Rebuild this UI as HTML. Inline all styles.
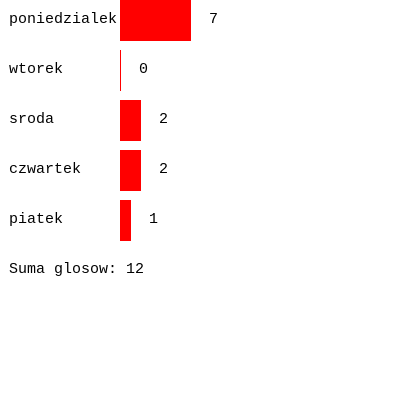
<!DOCTYPE html>
<html><head><meta charset="utf-8"><style>
body{margin:0;background:#fff;width:400px;height:400px;overflow:hidden}
svg text{font-family:"Liberation Mono",monospace;font-size:15px;fill:#000}
</style></head><body>
<svg width="400" height="400">
<g id="g"></g>
</svg>
<script>
const categories=["poniedzialek","wtorek","sroda","czwartek","piatek"];
const votes=[7,0,2,2,1];
const g=document.getElementById('g');
const ns='http://www.w3.org/2000/svg';
const x0=120, unit=10, rowH=50, barH=41;
function xw(v){return 1+v*unit;}
let total=0;
categories.forEach((c,i)=>{
  const y=i*rowH;
  const t=document.createElementNS(ns,'text');
  
  
  t.setAttribute('x',9);t.setAttribute('y',y+23);t.textContent=c;g.appendChild(t);
  const r=document.createElementNS(ns,'rect');
  
  
  r.setAttribute('x',x0);r.setAttribute('y',y);r.setAttribute('width',xw(votes[i]));r.setAttribute('height',barH);r.setAttribute('fill','#ff0000');g.appendChild(r);
  const v=document.createElementNS(ns,'text');
  
  
  v.setAttribute('x',x0+xw(votes[i])+18);v.setAttribute('y',y+23);v.textContent=votes[i];g.appendChild(v);
  total+=votes[i];
});
const s=document.createElementNS(ns,'text');


s.setAttribute('x',9);s.setAttribute('y',categories.length*rowH+23);s.textContent='Suma glosow: '+total;g.appendChild(s);
</script>
</body></html>
